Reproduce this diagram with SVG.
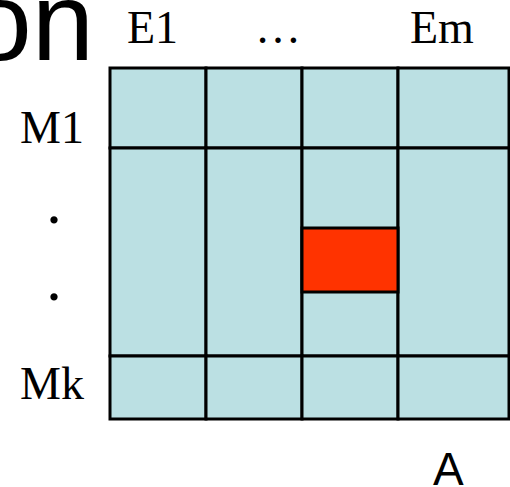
<svg xmlns="http://www.w3.org/2000/svg" width="510" height="487" viewBox="0 0 510 487">
<style>
.cell{fill:#BBE0E3;stroke:#000;stroke-width:3}
.hot{fill:#FF3300;stroke:#000;stroke-width:3}
.serif{font-family:"Liberation Serif","Times New Roman",serif;font-size:46px;fill:#000}
.dot{font-family:"Liberation Serif","Times New Roman",serif;font-size:62px;fill:#000}
.sans{font-family:"Liberation Sans",Arial,sans-serif;fill:#000}
</style>
<rect width="510" height="487" fill="#fff"/>
<text class="sans" x="94" y="60" font-size="112" text-anchor="end">on</text>
<g id="labels">
<text class="serif" x="127" y="43">E1</text>
<text class="serif" x="278" y="43" text-anchor="middle">…</text>
<text class="serif" x="410" y="43">Em</text>
<text class="serif" x="20" y="143">M1</text>
<text class="dot" x="54" y="223" text-anchor="middle">.</text>
<text class="dot" x="54" y="300" text-anchor="middle">.</text>
<text class="serif" x="20" y="399">Mk</text>
</g>
<g id="grid">
<rect class="cell" x="110" y="68" width="96" height="80"/>
<rect class="cell" x="206" y="68" width="96" height="80"/>
<rect class="cell" x="302" y="68" width="96" height="80"/>
<rect class="cell" x="398" y="68" width="111" height="80"/>
<rect class="cell" x="110" y="148" width="96" height="208"/>
<rect class="cell" x="206" y="148" width="96" height="208"/>
<rect class="cell" x="302" y="148" width="96" height="208"/>
<rect class="cell" x="398" y="148" width="111" height="208"/>
<rect class="cell" x="110" y="356" width="96" height="63"/>
<rect class="cell" x="206" y="356" width="96" height="63"/>
<rect class="cell" x="302" y="356" width="96" height="63"/>
<rect class="cell" x="398" y="356" width="111" height="63"/>
</g>
<g id="highlight">
<rect class="hot" x="302" y="228" width="96" height="64"/>
</g>
<text class="sans" x="433" y="485" font-size="46">A</text>
</svg>
